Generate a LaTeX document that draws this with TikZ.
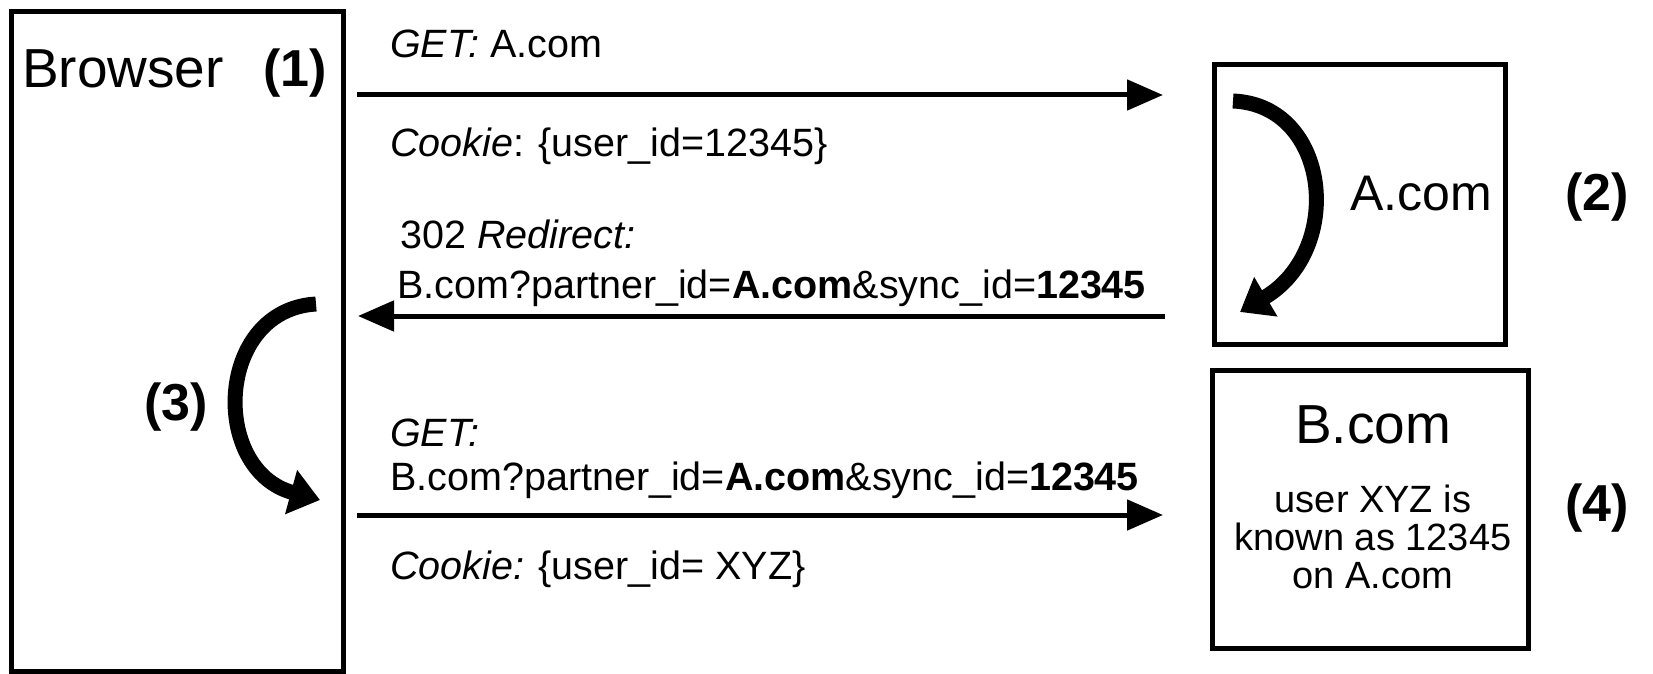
\documentclass[tikz,border=0pt]{standalone}
\usepackage{fontspec}
\setmainfont{Liberation Sans}
\usetikzlibrary{arrows.meta}
\begin{document}
\begin{tikzpicture}[x=1pt,y=-1pt,
  box/.style={draw=black, line width=5pt, inner sep=0pt, outer sep=0pt, rectangle},
  flow/.style={line width=5pt, -{Triangle[length=36pt,width=30pt]}},
  turn/.style={line width=15pt, -{Triangle[length=30pt,width=44pt]}},
  msg/.style={anchor=base west, inner sep=0pt, font=\fontsize{39.5}{44}\selectfont},
  title/.style={anchor=base west, inner sep=0pt, font=\fontsize{55}{60}\selectfont},
  num/.style={anchor=base west, inner sep=0pt, font=\fontsize{52}{58}\selectfont\bfseries},
  info/.style={anchor=base, inner sep=0pt, font=\fontsize{38}{44}\selectfont}
]
\useasboundingbox (0,0) rectangle (1653,674);

% boxes
\node[box, minimum width=332pt, minimum height=659pt] (browser) at (177,341.5) {};
\node[box, minimum width=291pt, minimum height=279pt] (acom) at (1359.5,204.5) {};
\node[box, minimum width=316pt, minimum height=278pt] (bcom) at (1370,509) {};

% box texts
\node[title] (browserlbl) at (22,88) {Browser};
\node[num] (n1) at (263,87) {(1)};
\node[anchor=base west, inner sep=0pt, font=\fontsize{50}{56}\selectfont] (acomlbl) at (1350,210) {A.com};
\node[num] (n2) at (1565,210) {(2)};
\node[num] (n3) at (144,420) {(3)};
\node[num] (n4) at (1565,521) {(4)};
\node[anchor=base, inner sep=0pt, font=\fontsize{55}{60}\selectfont] (bcomlbl) at (1373,443) {B.com};
\node[info] (i1) at (1373,512) {user XYZ is};
\node[info] (i2) at (1373,550) {known as 12345};
\node[info] (i3) at (1373,588) {on A.com};

% message texts
\node[msg] (m1) at (390,58) {\textit{GET:} A.com};
\node[msg] (m2) at (390,157) {\textit{Cookie}: \{user\_id=12345\}};
\node[msg] (m3) at (400,248) {302 \textit{Redirect:}};
\node[msg] (m4) at (397,298) {B.com?partner\_id=\textbf{A.com}\&sync\_id=\textbf{12345}};
\node[msg] (m5) at (390,446) {\textit{GET:}};
\node[msg] (m6) at (390,490) {B.com?partner\_id=\textbf{A.com}\&sync\_id=\textbf{12345}};
\node[msg] (m7) at (390,579) {\textit{Cookie:} \{user\_id= XYZ\}};

% rows
\coordinate (r1) at (0,95);
\coordinate (r2) at (0,316);
\coordinate (r3) at (0,515);

\draw[flow, shorten <=14pt, shorten >=51pt] (browser.east |- r1) -- (acom.west |- r1);
\draw[flow, shorten <=49pt, shorten >=15pt] (acom.west |- r2) -- (browser.east |- r2);
\draw[flow, shorten <=14pt, shorten >=49pt] (browser.east |- r3) -- (bcom.west |- r3);

% curved arrows
\coordinate (c1s) at (1233,101);
\coordinate (c1e) at (1240,312);
\draw[turn] (c1s) .. controls (1330,105) and (1345,250) .. (c1e);

\coordinate (c2s) at (316,304);
\coordinate (c2e) at (320,500);
\draw[turn] (c2s) .. controls (215,310) and (210,470) .. (c2e);
\end{tikzpicture}
\end{document}
